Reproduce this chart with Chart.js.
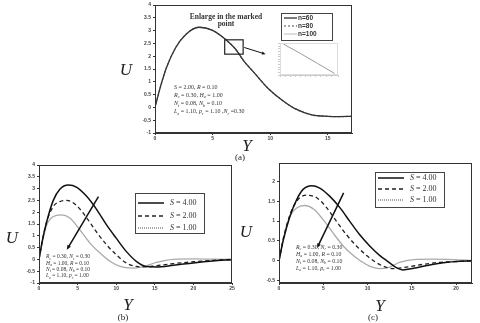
<!DOCTYPE html>
<html>
<head>
  <meta charset="UTF-8">
  <title>Velocity profiles U(Y)</title>
  <script src="https://cdn.jsdelivr.net/npm/chart.js"></script>
  <style>
    body {
      margin: 0;
      background: #fff;
      width: 480px;
      height: 323px;
      position: relative;
      overflow: hidden;
      font-family: "Liberation Serif", serif;
    }
    canvas { position: absolute; }
    .lbl {
      position: absolute;
      color: #222;
      transform: translate(-50%, -50%);
      white-space: nowrap;
      font-family: "Liberation Serif", serif;
    }
    .ax { font-size: 17px; font-style: italic; }
    .cap { font-size: 9px; }
  </style>
</head>
<body>
  <canvas id="chartA" style="left:130px;top:0px" width="226" height="150"></canvas>
  <canvas id="chartInset" style="left:277px;top:40px" width="64" height="38"></canvas>
  <canvas id="chartB" style="left:15px;top:158px" width="222" height="140"></canvas>
  <canvas id="chartC" style="left:255px;top:156px" width="222" height="142"></canvas>

  <div class="lbl ax" style="left:126px;top:70px">U</div>
  <div class="lbl ax" style="left:247px;top:146px">Y</div>
  <div class="lbl cap" style="left:240px;top:157px">(a)</div>
  <div class="lbl ax" style="left:12px;top:238px">U</div>
  <div class="lbl ax" style="left:128px;top:305px">Y</div>
  <div class="lbl cap" style="left:123px;top:317px">(b)</div>
  <div class="lbl ax" style="left:246px;top:232px">U</div>
  <div class="lbl ax" style="left:380px;top:306px">Y</div>
  <div class="lbl cap" style="left:373px;top:317px">(c)</div>

  <script>
    // ---- (a) grid size n ----
    const yA = [0, 0.5, 1, 1.8, 2.7, 3.8, 5, 6, 7, 7.7, 8.6, 9.8, 11.1, 12.2, 13.6, 15, 16, 17.1];
    const uA60 = [0, 0.85, 1.56, 2.34, 2.86, 3.13, 3.01, 2.7, 2.27, 1.82, 1.36, 0.75, 0.26, -0.06, -0.29, -0.35, -0.36, -0.35];
    const uA80 = [0, 0.85, 1.56, 2.34, 2.86, 3.13, 3.01, 2.7, 2.27, 1.82, 1.36, 0.75, 0.26, -0.06, -0.29, -0.35, -0.36, -0.35];
    const uA100 = [0, 0.85, 1.56, 2.34, 2.86, 3.13, 3.01, 2.7, 2.27, 1.82, 1.36, 0.75, 0.26, -0.06, -0.29, -0.35, -0.36, -0.35];
    const insetY = [6.1, 6.6, 7.1, 7.6];
    const insetU = [2.64, 2.46, 2.27, 2.08];

    // ---- (b) ----
    const yB4 = [0, 0.5, 1, 1.85, 2.7, 3.8, 4.9, 6.2, 7.5, 8.75, 10, 11.3, 12.6, 13.9, 15.2, 17.4, 20, 22.5, 25];
    const uB4 = [0, 0.9, 1.6, 2.5, 2.97, 3.15, 3.05, 2.66, 2.1, 1.46, 0.9, 0.34, -0.08, -0.3, -0.32, -0.25, -0.15, -0.07, -0.01];
    const yB2 = [0, 0.5, 1, 1.85, 2.7, 3.6, 4.9, 6.2, 7.5, 8.75, 10, 11.3, 12.6, 13.9, 15.2, 17.4, 20, 22.5, 25];
    const uB2 = [0, 0.9, 1.6, 2.24, 2.45, 2.5, 2.27, 1.75, 1.14, 0.62, 0.2, -0.15, -0.3, -0.32, -0.27, -0.18, -0.1, -0.04, 0];
    const yB1 = [0, 0.5, 1, 1.85, 2.9, 4, 5.3, 6.6, 7.9, 9.2, 10.5, 12.2, 13.9, 15.2, 17.4, 20, 22.5, 25];
    const uB1 = [0, 0.85, 1.46, 1.82, 1.89, 1.75, 1.25, 0.69, 0.27, -0.08, -0.3, -0.37, -0.27, -0.13, 0, 0.02, 0.01, 0];

    // ---- (c) ----
    const yC4 = [0, 0.5, 1.24, 2, 2.7, 3.7, 4.6, 5.75, 6.9, 8, 9.1, 10.3, 11.4, 12.3, 13.3, 14, 15.2, 16.7, 18.2, 20, 21.8];
    const uC4 = [0, 0.53, 1.12, 1.54, 1.79, 1.89, 1.83, 1.62, 1.33, 0.99, 0.66, 0.36, 0.13, -0.02, -0.18, -0.23, -0.19, -0.12, -0.06, -0.02, 0];
    const yC2 = [0, 0.5, 1.24, 2, 3.1, 4.3, 5.4, 6.5, 7.6, 8.8, 9.9, 10.8, 11.8, 12.9, 14.4, 16.3, 18.2, 20, 21.8];
    const uC2 = [0, 0.57, 1.16, 1.5, 1.65, 1.58, 1.33, 0.99, 0.66, 0.36, 0.13, -0.02, -0.14, -0.2, -0.16, -0.09, -0.04, -0.02, 0];
    const yC1 = [0, 0.5, 1.24, 2, 2.9, 3.9, 5, 6.1, 7.3, 8.4, 9.3, 10.3, 11.4, 12.5, 13.6, 15.2, 17.4, 19.7, 21.8];
    const uC1 = [0, 0.57, 1.12, 1.33, 1.39, 1.3, 1.03, 0.7, 0.36, 0.13, -0.02, -0.14, -0.2, -0.16, -0.04, 0.03, 0.04, 0.03, 0.01];

    // tick labels
    const xTicksA = [0, 5, 10, 15];
    const xTicksB = [0, 5, 10, 15, 20, 25];
    const xTicksC = [0, 5, 10, 15, 20];
    const yTicksAB = [-1, -0.5, 0, 0.5, 1, 1.5, 2, 2.5, 3, 3.5, 4];
    const yTicksC = [-0.5, 0, 0.5, 1, 1.5, 2];

    const pts = (xs, ys) => xs.map((x, i) => ({ x: x, y: ys[i] }));
    const SERIF = '"Liberation Serif", serif';

    // text with "_x" subscripts, letters in italic
    function richText(ctx, str, x, y, size) {
      let cx = x;
      for (let i = 0; i < str.length; i++) {
        let ch = str[i];
        if (ch === '_') {
          ch = str[++i];
          ctx.font = 'italic ' + (size * 0.7) + 'px ' + SERIF;
          ctx.fillText(ch, cx, y + size * 0.3);
        } else {
          ctx.font = (/[A-Za-z]/.test(ch) ? 'italic ' : '') + size + 'px ' + SERIF;
          ctx.fillText(ch, cx, y);
        }
        cx += ctx.measureText(ch).width;
      }
    }

    function arrow(ctx, x1, y1, x2, y2, w, head) {
      const a = Math.atan2(y2 - y1, x2 - x1);
      ctx.save();
      ctx.strokeStyle = '#111';
      ctx.fillStyle = '#111';
      ctx.lineWidth = w;
      ctx.beginPath();
      ctx.moveTo(x1, y1);
      ctx.lineTo(x2 - Math.cos(a) * head * 0.8, y2 - Math.sin(a) * head * 0.8);
      ctx.stroke();
      ctx.beginPath();
      ctx.moveTo(x2, y2);
      ctx.lineTo(x2 - head * Math.cos(a - 0.4), y2 - head * Math.sin(a - 0.4));
      ctx.lineTo(x2 - head * Math.cos(a + 0.4), y2 - head * Math.sin(a + 0.4));
      ctx.closePath();
      ctx.fill();
      ctx.restore();
    }

    const extras = {
      id: 'extras',
      afterDatasetsDraw(chart, args, o) {
        const ctx = chart.ctx;
        const ca = chart.chartArea;
        const sx = chart.scales.x, sy = chart.scales.y;
        ctx.save();
        // frame
        ctx.strokeStyle = o.frameColor || '#333';
        ctx.lineWidth = 1;
        ctx.strokeRect(Math.round(ca.left) + 0.5, Math.round(ca.top) + 0.5,
          Math.round(ca.right - ca.left) - 1, Math.round(ca.bottom - ca.top) - 1);

        if (o.box) {
          const b = o.box;
          ctx.strokeStyle = '#222';
          ctx.lineWidth = 1.2;
          const x1 = sx.getPixelForValue(b[0]), x2 = sx.getPixelForValue(b[1]);
          const y1 = sy.getPixelForValue(b[3]), y2 = sy.getPixelForValue(b[2]);
          ctx.strokeRect(x1, y1, x2 - x1, y2 - y1);
        }
        if (o.arrow) {
          const r = o.arrow;
          arrow(ctx, sx.getPixelForValue(r[0]), sy.getPixelForValue(r[1]),
            sx.getPixelForValue(r[2]), sy.getPixelForValue(r[3]), r[4], r[5]);
        }
        if (o.title) {
          ctx.fillStyle = '#333';
          ctx.font = 'bold ' + o.title.size + 'px ' + SERIF;
          ctx.textAlign = 'center';
          ctx.textBaseline = 'middle';
          o.title.lines.forEach((t, i) => {
            ctx.fillText(t, ca.left + o.title.dx, ca.top + o.title.dy + i * o.title.gap);
          });
          ctx.textAlign = 'left';
        }
        if (o.notes) {
          ctx.fillStyle = '#333';
          ctx.textBaseline = 'middle';
          o.notes.lines.forEach((t, i) => {
            richText(ctx, t, ca.left + o.notes.dx, ca.top + o.notes.dy + i * o.notes.gap, o.notes.size);
          });
        }
        if (o.legend) {
          const L = o.legend;
          const bx = ca.left + L.dx, by = ca.top + L.dy;
          ctx.fillStyle = '#fff';
          ctx.fillRect(bx, by, L.w, L.h);
          ctx.strokeStyle = '#444';
          ctx.lineWidth = 1;
          ctx.strokeRect(bx + 0.5, by + 0.5, L.w, L.h);
          chart.data.datasets.forEach((ds, i) => {
            const ry = by + L.rows[i];
            ctx.save();
            ctx.strokeStyle = ds.legendColor || ds.borderColor;
            ctx.lineWidth = ds.borderWidth;
            ctx.setLineDash(ds.legendDash || ds.borderDash || []);
            ctx.beginPath();
            ctx.moveTo(bx + L.sx, ry);
            ctx.lineTo(bx + L.sx + L.sl, ry);
            ctx.stroke();
            ctx.restore();
            ctx.fillStyle = '#333';
            ctx.textBaseline = 'middle';
            if (L.rich) {
              richText(ctx, ds.label, bx + L.tx, ry, L.size);
            } else {
              ctx.font = 'bold ' + L.size + 'px "Liberation Sans", sans-serif';
              ctx.fillText(ds.label, bx + L.tx, ry);
            }
          });
        }
        ctx.restore();
      }
    };

    function makeScales(xMin, xMax, xTicks, yMin, yMax, yTicks) {
      const tickFont = { size: 5, weight: 'bold' };
      const fmt = v => String(v);
      return {
        x: {
          type: 'linear', min: xMin, max: xMax,
          afterBuildTicks: s => { s.ticks = xTicks.map(v => ({ value: v })); },
          afterFit: s => { s.height = 10; },
          ticks: { font: tickFont, color: '#444', padding: 1, maxRotation: 0, callback: fmt },
          grid: { drawOnChartArea: false, tickLength: 2, color: '#333' },
          border: { color: '#333' }
        },
        y: {
          type: 'linear', min: yMin, max: yMax,
          afterBuildTicks: s => { s.ticks = yTicks.map(v => ({ value: v })); },
          afterFit: s => { s.width = 24; },
          ticks: { font: tickFont, color: '#444', padding: 2, callback: fmt },
          grid: { drawOnChartArea: false, tickLength: 2, color: '#333' },
          border: { color: '#333' }
        }
      };
    }

    const lineBase = { pointRadius: 0, fill: false, cubicInterpolationMode: 'monotone' };

    // (a)
    const scalesA = makeScales(0, 17.1, xTicksA, -1, 4, yTicksAB);
    scalesA.y.afterFit = s => { s.width = 25; };
    scalesA.x.afterFit = s => { s.height = 12; };
    new Chart(document.getElementById('chartA'), {
      type: 'line',
      data: {
        datasets: [
          { ...lineBase, label: 'n=60', data: pts(yA, uA60), borderColor: '#333', borderWidth: 1.3 },
          { ...lineBase, label: 'n=80', data: pts(yA, uA80), borderColor: '#777', borderWidth: 1.3, borderDash: [2, 2] },
          { ...lineBase, label: 'n=100', data: pts(yA, uA100), borderColor: '#bbb', borderWidth: 1 }
        ]
      },
      options: {
        responsive: false, animation: false,
        layout: { padding: { top: 5, right: 4, bottom: 5, left: 0 } },
        scales: scalesA,
        plugins: {
          legend: { display: false }, tooltip: { enabled: false },
          extras: {
            box: [6.05, 7.65, 2.08, 2.64],
            arrow: [7.75, 2.34, 9.6, 2.08, 1, 4],
            title: { lines: ['Enlarge in the marked', 'point'], dx: 71, dy: 12, gap: 7, size: 7.5 },
            notes: {
              lines: ['S = 2.00, R = 0.10', 'R_c = 0.30, H_a = 1.00', 'N_t = 0.08, N_b = 0.10', 'L_e = 1.10, p_r = 1.10 ,N_r =0.30'],
              dx: 19, dy: 82, gap: 8.3, size: 6
            },
            legend: { dx: 126, dy: 8, w: 51, h: 27, rows: [5, 13, 21], sx: 3, sl: 13, tx: 17, size: 6.5 }
          }
        }
      },
      plugins: [extras]
    });

    // inset
    new Chart(document.getElementById('chartInset'), {
      type: 'line',
      data: { datasets: [{ ...lineBase, data: pts(insetY, insetU), borderColor: '#999', borderWidth: 1 }] },
      options: {
        responsive: false, animation: false,
        layout: { padding: { top: 3, right: 3, bottom: 0, left: 0 } },
        scales: {
          x: {
            type: 'linear', min: 6, max: 7.7,
            ticks: { display: false, stepSize: 0.15 },
            afterFit: s => { s.height = 3; },
            grid: { drawOnChartArea: false, tickLength: 2, color: '#ccc' },
            border: { color: '#ccc' }
          },
          y: {
            type: 'linear', min: 2.05, max: 2.66,
            ticks: { display: false, stepSize: 0.05 },
            afterFit: s => { s.width = 3; },
            grid: { drawOnChartArea: false, tickLength: 2, color: '#ccc' },
            border: { color: '#ccc' }
          }
        },
        plugins: { legend: { display: false }, tooltip: { enabled: false }, extras: { frameColor: '#ddd' } }
      },
      plugins: [extras]
    });

    const notesBC = ['R_c = 0.30, N_r = 0.30', 'H_a = 1.00, R = 0.10', 'N_t = 0.08, N_b = 0.10', 'L_e = 1.10, p_r = 1.00'];

    // (b)
    new Chart(document.getElementById('chartB'), {
      type: 'line',
      data: {
        datasets: [
          { ...lineBase, label: 'S = 4.00', data: pts(yB4, uB4), borderColor: '#111', borderWidth: 1.5 },
          { ...lineBase, label: 'S = 2.00', data: pts(yB2, uB2), borderColor: '#222', borderWidth: 1.3, borderDash: [4, 3] },
          { ...lineBase, label: 'S = 1.00', data: pts(yB1, uB1), borderColor: '#aaa', borderWidth: 1.3, legendDash: [1, 1], legendColor: '#777' }
        ]
      },
      options: {
        responsive: false, animation: false,
        layout: { padding: { top: 7, right: 5, bottom: 5, left: 0 } },
        scales: makeScales(0, 25, xTicksB, -1, 4, yTicksAB),
        plugins: {
          legend: { display: false }, tooltip: { enabled: false },
          extras: {
            arrow: [7.7, 2.66, 3.6, 0.41, 1.5, 5],
            notes: { lines: notesBC, dx: 7, dy: 92, gap: 6.3, size: 5.5 },
            legend: { dx: 96, dy: 28, w: 69, h: 40, rows: [10, 23, 35], sx: 3, sl: 26, tx: 35, size: 8, rich: true }
          }
        }
      },
      plugins: [extras]
    });

    // (c)
    new Chart(document.getElementById('chartC'), {
      type: 'line',
      data: {
        datasets: [
          { ...lineBase, label: 'S = 4.00', data: pts(yC4, uC4), borderColor: '#111', borderWidth: 1.5 },
          { ...lineBase, label: 'S = 2.00', data: pts(yC2, uC2), borderColor: '#222', borderWidth: 1.3, borderDash: [4, 3] },
          { ...lineBase, label: 'S = 1.00', data: pts(yC1, uC1), borderColor: '#aaa', borderWidth: 1.3, legendDash: [1, 1], legendColor: '#777' }
        ]
      },
      options: {
        responsive: false, animation: false,
        layout: { padding: { top: 7, right: 5, bottom: 5, left: 0 } },
        scales: makeScales(0, 21.8, xTicksC, -0.56, 2.46, yTicksC),
        plugins: {
          legend: { display: false }, tooltip: { enabled: false },
          extras: {
            arrow: [7.3, 1.71, 4.3, 0.32, 1.5, 5],
            notes: { lines: notesBC, dx: 17, dy: 84, gap: 7, size: 5.8 },
            legend: { dx: 96, dy: 9, w: 69, h: 35, rows: [6, 17, 28], sx: 3, sl: 26, tx: 35, size: 8, rich: true }
          }
        }
      },
      plugins: [extras]
    });
  </script>
</body>
</html>
